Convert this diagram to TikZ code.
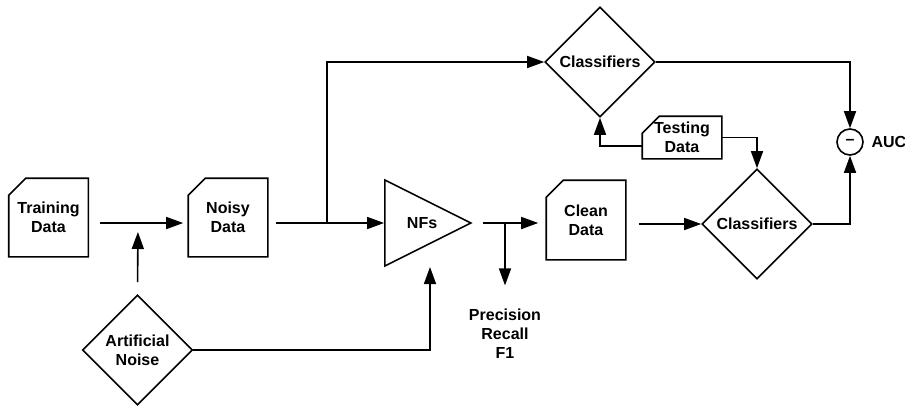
\documentclass[tikz,border=0pt]{standalone}
\usepackage{fontspec}
\setmainfont{Liberation Sans}
\usepackage{tikz}
\usetikzlibrary{arrows.meta,positioning,shapes.geometric}

\begin{document}
\begin{tikzpicture}[x=1pt,y=-1pt,
    font=\fontsize{16}{19}\selectfont\bfseries, line width=1.6pt,
    >={Triangle[length=17pt,width=12pt]},
    doc/.style={rectangle, inner sep=0pt, align=center, minimum width=78pt, minimum height=77pt},
    decide/.style={draw, diamond, aspect=1, inner sep=0pt, align=center, minimum size=110pt},
    arr/.style={->}]
    \useasboundingbox (0,0) rectangle (905,407);

    % data blocks
    \node[doc] (train) at (48.5,217.5) {Training\\Data};
    \node[doc] (noisy) at (228,217.5) {Noisy\\Data};
    \node[doc, minimum height=78pt] (clean) at (586,220) {Clean\\Data};
    \node[doc, minimum height=41pt] (test) at (682,137.5) {Testing\\Data};
    \foreach \n in {train,noisy,clean,test}
      \draw (\n.south west) -- ([yshift=-17pt]\n.north west) -- ([xshift=17pt]\n.north west)
        -- (\n.north east) -- (\n.south east) -- cycle;

    % NFs, classifiers, noise
    \node[draw, isosceles triangle, isosceles triangle stretches, inner sep=0pt,
      minimum width=86pt, minimum height=86pt, anchor=apex] (nfs) at (473,223) {\hspace*{12pt}NFs};
    \node[decide] (cls1) at (600,62) {Classifiers};
    \node[decide] (cls2) at (757,224) {Classifiers};
    \node[decide] (noise) at (137.5,350) {Artificial\\Noise};
    \node[draw, circle, minimum size=26pt, inner sep=0pt] (auc) at (850,142) {--};
    \node[right=7pt of auc, inner sep=0pt] (auclbl) {AUC};
    \node[align=center, inner sep=0pt] (prf) at (505,334) {Precision\\Recall\\F1};

    \coordinate (mid) at (138,223);
    \coordinate (br) at (327,223);
    \coordinate (br2) at (505,223);
    \coordinate (nfin) at (430,267);

    % connectors
    \draw[arr, shorten <=12pt, shorten >=5pt] (train.east |- mid) -- (noisy.west |- mid);
    \draw[arr, shorten <=12pt, shorten >=9pt] (noise.north) -- (mid);
    \draw[arr, shorten <=8pt] (noisy.east |- mid) -- (nfs.west |- mid);
    \draw[arr] (br) |- (cls1.west);
    \draw[arr] (noise.east) -| (nfin);
    \draw[arr, shorten <=10pt, shorten >=8pt] (nfs.apex) -- (clean.west |- nfs.apex);
    \draw[arr, shorten >=23pt] (br2) -- (prf.north);
    \draw[arr, shorten <=13pt] (clean.east |- cls2.west) -- (cls2.west);
    \draw[arr] (cls1.east) -| (auc.north);
    \draw[arr] (cls2.east) -| (auc.south);
    \draw[arr] ([yshift=-8.5pt]test.west) -| (cls1.south);
    \draw[arr] (test.east) -| (cls2.north);
\end{tikzpicture}
\end{document}
